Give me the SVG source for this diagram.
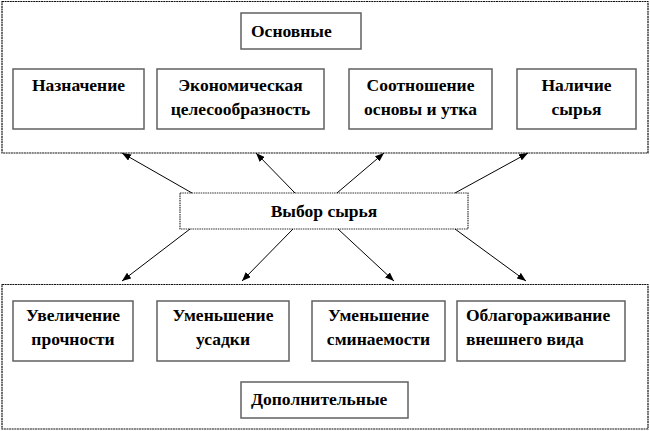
<svg xmlns="http://www.w3.org/2000/svg" width="650" height="431" viewBox="0 0 650 431">
<defs>
<marker id="ah" markerWidth="9" markerHeight="7" refX="9" refY="3.5" orient="auto" markerUnits="userSpaceOnUse">
<path d="M0,0 L9,3.5 L0,7 Z" fill="#000"/>
</marker>
<style>
.frame{fill:#fff;stroke:#111;stroke-width:1.2;stroke-dasharray:2 0.6}
.box{fill:#fff;stroke:#606060;stroke-width:1.5}
.mid{fill:#fff;stroke:#333;stroke-width:1.2;stroke-dasharray:1.5 0.8}
.t{font-family:"Liberation Serif","Times New Roman",serif;font-weight:bold;font-size:17.5px;fill:#000;text-anchor:middle}
.tl{text-anchor:start}
.c line{stroke:#000;stroke-width:1;marker-end:url(#ah)}
</style>
</defs>
<rect width="650" height="431" fill="#fff"/>
<g id="main-group">
<rect class="frame" x="2" y="1.5" width="646" height="151.5"/>
</g>
<g id="extra-group">
<rect class="frame" x="2" y="284.5" width="646" height="144.5"/>
</g>
<g id="osnovnye">
<rect class="box" x="241" y="13" width="120" height="36"/>
<text class="t tl" x="251" y="37">Основные</text>
</g>
<g id="naznachenie">
<rect class="box" x="13" y="69" width="131" height="60"/>
<text class="t" x="78.5" y="91">Назначение</text>
</g>
<g id="ekonom">
<rect class="box" x="157" y="69" width="167" height="60"/>
<text class="t" x="240.5" y="91">Экономическая</text>
<text class="t" x="240.5" y="115">целесообразность</text>
</g>
<g id="sootnoshenie">
<rect class="box" x="349" y="69" width="143" height="60"/>
<text class="t" x="420.5" y="91">Соотношение</text>
<text class="t" x="420.5" y="115">основы и утка</text>
</g>
<g id="nalichie">
<rect class="box" x="517" y="69" width="119" height="60"/>
<text class="t" x="576.5" y="91">Наличие</text>
<text class="t" x="576.5" y="115">сырья</text>
</g>
<g id="vybor">
<rect class="mid" x="180" y="193" width="288" height="36"/>
<text class="t" x="324" y="217">Выбор сырья</text>
</g>
<g id="uvelichenie">
<rect class="box" x="13" y="301" width="120" height="60"/>
<text class="t" x="73" y="321">Увеличение</text>
<text class="t" x="73" y="345">прочности</text>
</g>
<g id="usadka">
<rect class="box" x="157" y="301" width="132" height="60"/>
<text class="t" x="223" y="321">Уменьшение</text>
<text class="t" x="223" y="345">усадки</text>
</g>
<g id="sminaemost">
<rect class="box" x="312" y="301" width="133" height="60"/>
<text class="t" x="378.5" y="321">Уменьшение</text>
<text class="t" x="378.5" y="345">сминаемости</text>
</g>
<g id="oblagorazh">
<rect class="box" x="457" y="301" width="168" height="60"/>
<text class="t tl" x="466" y="321">Облагораживание</text>
<text class="t tl" x="466" y="345">внешнего вида</text>
</g>
<g id="dopolnitelnye">
<rect class="box" x="241" y="382" width="167" height="36"/>
<text class="t tl" x="251" y="405">Дополнительные</text>
</g>
<g id="connectors" class="c">
<line x1="192" y1="193" x2="122" y2="153"/>
<line x1="295" y1="193" x2="256" y2="153"/>
<line x1="337" y1="193" x2="384" y2="153"/>
<line x1="455" y1="193" x2="528" y2="153"/>
<line x1="190" y1="229" x2="122" y2="281"/>
<line x1="293" y1="229" x2="242" y2="281"/>
<line x1="338" y1="229" x2="394" y2="281"/>
<line x1="455" y1="229" x2="526" y2="281"/>
</g>
</svg>
